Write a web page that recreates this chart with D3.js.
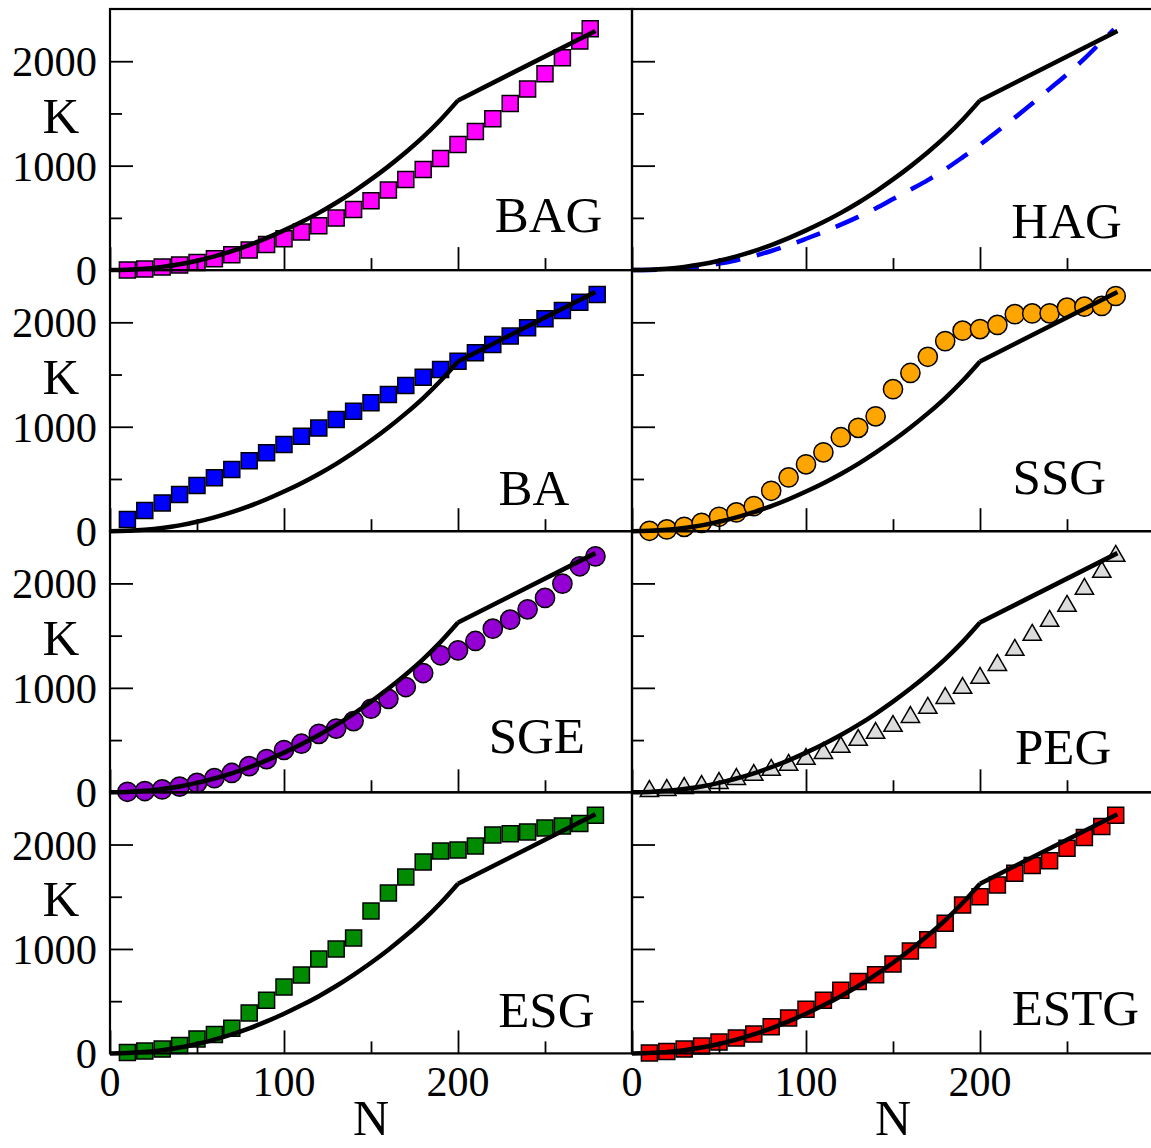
<!DOCTYPE html>
<html>
<head>
<meta charset="utf-8">
<title>K vs N</title>
<style>
body { margin: 0; background: #fff; }
svg text { font-family: 'Liberation Serif', 'Times New Roman', serif; fill: #000; }
.frame { fill: none; stroke: #000; stroke-width: 2.2px; }
.tick line { stroke: #000; stroke-width: 1.8px; }
</style>
</head>
<body>
<svg width="1151" height="1148"></svg>
<script src="https://d3js.org/d3.v7.min.js"></script>
<script>

// marker abscissae shared by all point series (last point differs per series)
var markN = [10,20,30,40,50,60,70,80,90,100,110,120,130,140,150,160,170,180,190,200,210,220,230,240,250,260,270];

// reference curve (black) drawn in every panel: smooth part up to N=200, then straight
var refN = [0,10,20,30,40,50,60,70,80,90,100,110,120,130,140,150,160,170,180,190,200];
var refK = [0,4,14,31,56,90,132,182,240,306,380,460,548,645,752,868,993,1128,1275,1440,1625];
var refTailN = [200, 279];
var refTailK = [1625, 2290];

// HAG: dashed blue curve
var hagN = [0,10,20,30,40,50,60,70,80,90,100,110,120,130,140,150,160,170,180,190,200,210,220,230,240,250,260,270,277];
var hagK = [0,2,8,20,38,62,95,135,183,238,300,365,435,510,590,680,770,862,965,1080,1200,1330,1460,1595,1735,1875,2025,2190,2305];

var kBAG  = [2,10,29,48,72,108,147,192,244,300,364,425,498,581,664,766,868,964,1069,1203,1328,1449,1596,1733,1880,2033,2193,2311];
var kBA   = [112,198,271,351,437,511,591,674,750,830,910,987,1070,1149,1229,1309,1395,1475,1549,1628,1708,1788,1868,1948,2034,2114,2193,2267];
var kSSG  = [4,17,42,80,138,180,240,387,515,640,755,900,990,1100,1360,1515,1670,1820,1920,1935,1975,2078,2085,2086,2140,2150,2157,2252];
var kSGE  = [5,12,28,55,90,135,185,250,318,405,465,560,610,682,800,895,1008,1142,1312,1359,1449,1567,1653,1752,1861,1998,2164,2259];
var kPEG  = [11,21,40,59,88,126,165,213,261,318,375,433,500,567,634,720,807,902,998,1094,1218,1362,1506,1640,1784,1946,2109,2262];
var kESG  = [8,22,41,75,139,180,242,388,510,635,750,903,999,1104,1363,1535,1689,1833,1938,1948,1986,2092,2102,2121,2159,2178,2202,2280];
var kESTG = [5,19,41,70,108,147,185,255,340,422,510,605,688,752,855,980,1088,1245,1420,1500,1612,1725,1800,1845,1965,2068,2172,2280];

var lastN = [276, 280, 278, 279, 278, 279, 278];

var yTicks = [0, 1000, 2000];
var yMinor = [500, 1500];
var xTicks = [0, 100, 200];
var xMinor = [50, 150, 250];

var svg = d3.select("svg");

var left0 = [110, 632], panelW = 522;
var top0 = 9, rowH = 261.1;

function xs(col) { return d3.scaleLinear().domain([0, 300]).range([left0[col], left0[col] + panelW]); }
function ys(row) { return d3.scaleLinear().domain([0, 2500]).range([top0 + (row + 1) * rowH, top0 + row * rowH]); }

function pts(ns, ks) { return ns.map(function(n, i) { return [n, ks[i]]; }); }

var panels = [
  {name: "BAG",  row: 0, col: 0, pts: pts(markN.concat(lastN[0]), kBAG),  shape: d3.symbolSquare,   color: "#ff00ff", lab: [283, 367]},
  {name: "HAG",  row: 0, col: 1, pts: null, lab: [281.5, 303]},
  {name: "BA",   row: 1, col: 0, pts: pts(markN.concat(lastN[1]), kBA),   shape: d3.symbolSquare,   color: "#0000ff", lab: [264, 250]},
  {name: "SSG",  row: 1, col: 1, pts: pts(markN.concat(lastN[2]), kSSG),  shape: d3.symbolCircle,   color: "#ffa500", lab: [272.5, 352]},
  {name: "SGE",  row: 2, col: 0, pts: pts(markN.concat(lastN[3]), kSGE),  shape: d3.symbolCircle,   color: "#9400d3", lab: [273, 378]},
  {name: "PEG",  row: 2, col: 1, pts: pts(markN.concat(lastN[4]), kPEG),  shape: d3.symbolTriangle, color: "#dcdcdc", lab: [275.5, 267]},
  {name: "ESG",  row: 3, col: 0, pts: pts(markN.concat(lastN[5]), kESG),  shape: d3.symbolSquare,   color: "#008b00", lab: [278.5, 249]},
  {name: "ESTG", row: 3, col: 1, pts: pts(markN.concat(lastN[6]), kESTG), shape: d3.symbolSquare,   color: "#ff0000", lab: [291.5, 268]}
];

var symSize = new Map([[d3.symbolSquare, 256], [d3.symbolCircle, 290], [d3.symbolTriangle, 145]]);

panels.forEach(function(p) {
  var x = xs(p.col), y = ys(p.row);
  var g = svg.append("g");

  var line = d3.line().x(function(d) { return x(d[0]); }).y(function(d) { return y(d[1]); });
  var smooth = d3.line().curve(d3.curveMonotoneX).x(function(d) { return x(d[0]); }).y(function(d) { return y(d[1]); });

  if (p.pts) {
    g.selectAll("path.mark")
      .data(p.pts)
      .enter().append("path")
        .attr("class", "mark")
        .attr("transform", function(d) { return "translate(" + x(d[0]) + "," + y(d[1]) + ")"; })
        .attr("d", d3.symbol().type(p.shape).size(symSize.get(p.shape)))
        .style("fill", p.color)
        .style("stroke", "#000")
        .style("stroke-width", 1.5);
  } else {
    g.append("path")
      .attr("d", smooth(pts(hagN, hagK)))
      .style("fill", "none")
      .style("stroke", "#0000ff")
      .style("stroke-width", 4.5)
      .style("stroke-dasharray", "25,17");
  }

  g.append("path")
    .attr("d", smooth(pts(refN, refK)) + line(pts(refTailN, refTailK)))
    .style("fill", "none")
    .style("stroke", "#000")
    .style("stroke-width", 4.5)
    .style("stroke-linejoin", "round");

  // ticks point into the panel
  g.append("g").attr("class", "tick")
    .attr("transform", "translate(" + x(0) + ",0)")
    .call(d3.axisRight(y).tickValues(yTicks).tickSize(23).tickFormat(""))
    .call(function(a) { a.select(".domain").remove(); });
  g.append("g").attr("class", "tick")
    .attr("transform", "translate(" + x(0) + ",0)")
    .call(d3.axisRight(y).tickValues(yMinor).tickSize(12).tickFormat(""))
    .call(function(a) { a.select(".domain").remove(); });
  g.append("g").attr("class", "tick")
    .attr("transform", "translate(0," + y(0) + ")")
    .call(d3.axisTop(x).tickValues(xTicks).tickSize(23).tickFormat(""))
    .call(function(a) { a.select(".domain").remove(); });
  g.append("g").attr("class", "tick")
    .attr("transform", "translate(0," + y(0) + ")")
    .call(d3.axisTop(x).tickValues(xMinor).tickSize(12).tickFormat(""))
    .call(function(a) { a.select(".domain").remove(); });

  g.append("rect").attr("class", "frame")
    .attr("x", x(0)).attr("y", y(2500))
    .attr("width", x(300) - x(0)).attr("height", y(0) - y(2500));

  g.append("text")
    .attr("x", x(p.lab[0])).attr("y", y(p.lab[1]))
    .attr("text-anchor", "end")
    .style("font-size", "51px")
    .text(p.name);

  if (p.col === 0) {
    g.selectAll("text.yl")
      .data(yTicks)
      .enter().append("text")
        .attr("class", "yl")
        .attr("x", x(0) - 13)
        .attr("y", function(d) { return y(d) + 15; })
        .attr("text-anchor", "end")
        .style("font-size", "42.5px")
        .text(function(d) { return d; });
    g.append("text")
      .attr("x", 61).attr("y", y(1315))
      .attr("text-anchor", "middle")
      .style("font-size", "51px")
      .text("K");
  }

  if (p.row === 3) {
    g.selectAll("text.xl")
      .data(xTicks)
      .enter().append("text")
        .attr("class", "xl")
        .attr("x", function(d) { return x(d); })
        .attr("y", y(0) + 43)
        .attr("text-anchor", "middle")
        .style("font-size", "42px")
        .text(function(d) { return d; });
    g.append("text")
      .attr("x", x(150)).attr("y", 1135)
      .attr("text-anchor", "middle")
      .style("font-size", "50px")
      .text("N");
  }
});

</script>
</body>
</html>
